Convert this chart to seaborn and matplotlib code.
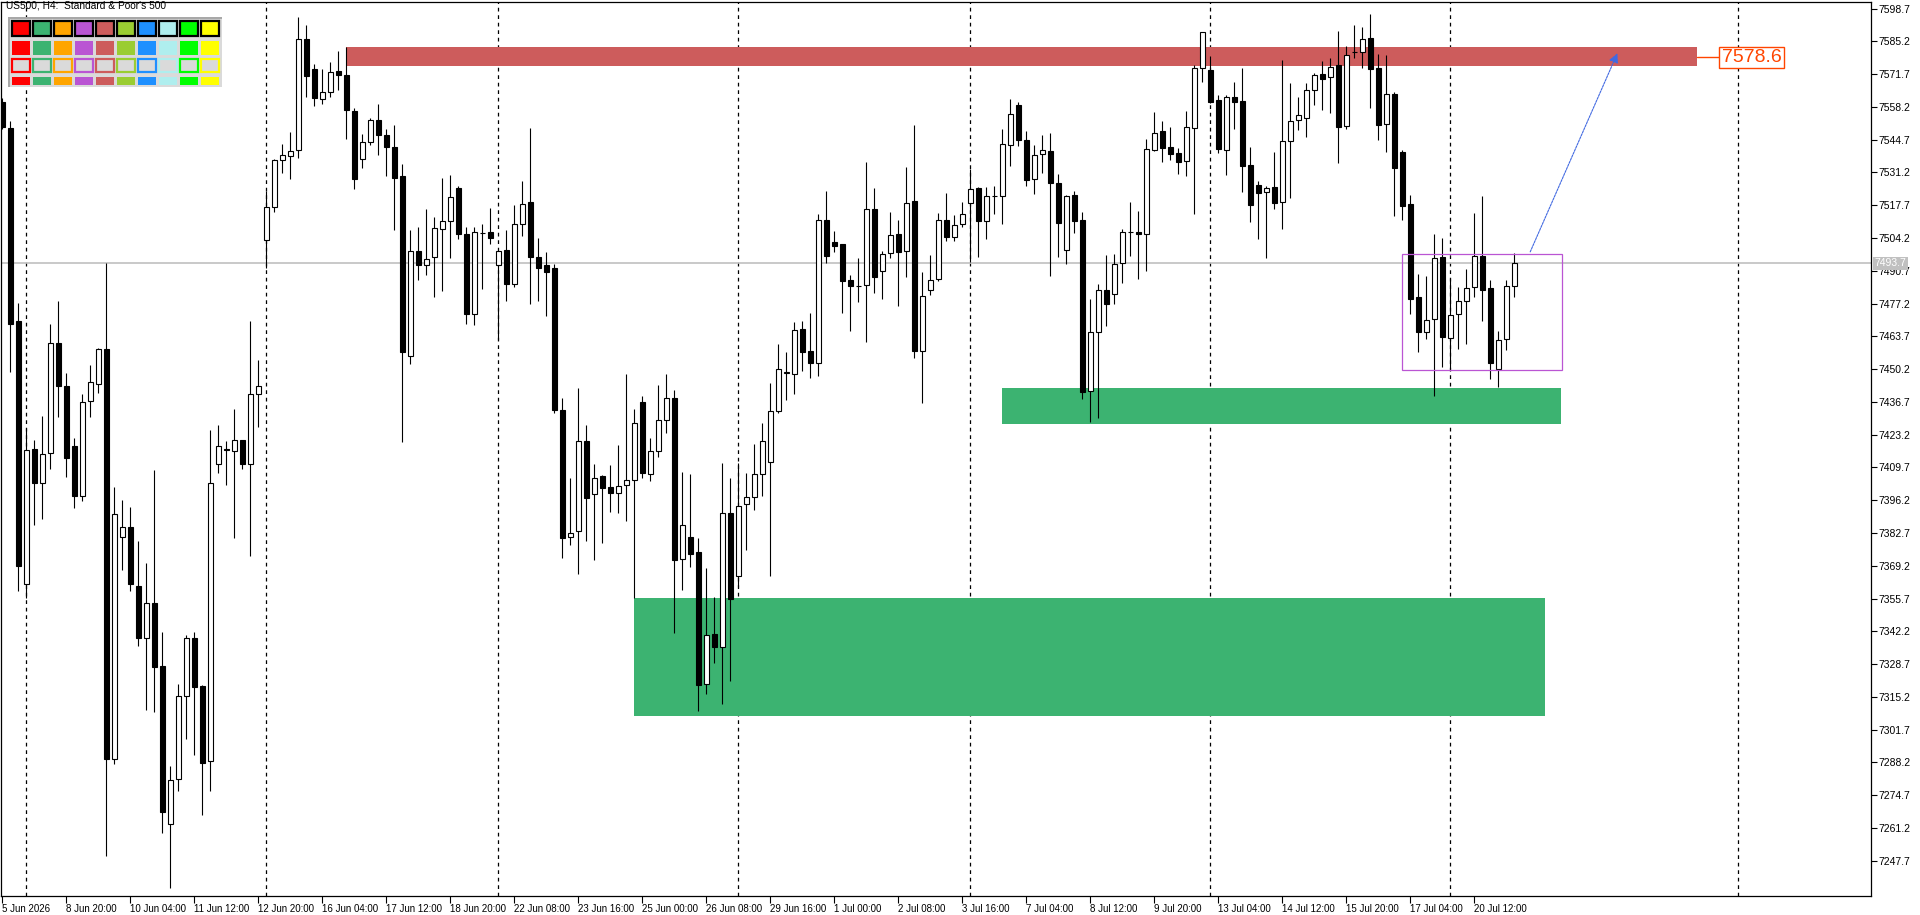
import numpy as np
import pandas as pd
import matplotlib
matplotlib.use("Agg")
import matplotlib.pyplot as plt
import matplotlib.patches as mpatches
from matplotlib import font_manager
import seaborn as sns

# US500 H4 candles (bar 0 = 5 Jun 2026)
opens = [
    7560.4, 7549.6, 7469.9, 7361.5, 7417.4, 7403.1, 7415.6, 7461.1, 7443.1, 7418.4,
    7398.1, 7437.0, 7444.2, 7458.6, 7289.5, 7381.2, 7385.0, 7361.0, 7339.6, 7353.7,
    7327.9, 7263.0, 7281.3, 7315.4, 7339.4, 7319.6, 7288.6, 7411.3, 7417.4, 7416.5,
    7421.0, 7411.3, 7440.0, 7503.5, 7516.9, 7536.2, 7537.8, 7540.6, 7586.2, 7573.6,
    7561.6, 7564.4, 7572.8, 7571.4, 7556.6, 7536.6, 7543.7, 7552.6, 7546.7, 7541.8,
    7529.6, 7455.5, 7498.8, 7492.9, 7496.4, 7508.0, 7511.3, 7524.9, 7506.0, 7472.9,
    7506.3, 7506.8, 7492.9, 7499.3, 7485.2, 7510.1, 7519.0, 7496.4, 7493.1, 7491.7,
    7433.4, 7381.2, 7383.6, 7420.7, 7398.9, 7406.2, 7401.7, 7399.3, 7402.6, 7404.7,
    7436.7, 7407.1, 7416.5, 7429.2, 7438.4, 7371.8, 7381.2, 7374.9, 7320.6, 7341.3,
    7335.9, 7391.1, 7364.8, 7394.6, 7397.5, 7407.1, 7412.0, 7433.0, 7448.7, 7448.1,
    7466.6, 7457.5, 7452.9, 7511.5, 7502.4, 7501.6, 7486.9, 7484.3, 7484.7, 7516.0,
    7490.5, 7497.9, 7505.8, 7498.7, 7519.3, 7457.5, 7482.7, 7487.2, 7511.5, 7504.5,
    7509.8, 7518.5, 7524.7, 7511.0, 7521.4, 7521.4, 7542.4, 7558.9, 7544.4, 7528.4,
    7538.7, 7539.9, 7526.7, 7499.1, 7521.8, 7511.5, 7441.2, 7465.4, 7482.7, 7481.0,
    7493.8, 7506.5, 7506.7, 7505.7, 7540.6, 7548.3, 7541.7, 7539.2, 7536.1, 7549.6,
    7574.1, 7573.4, 7561.0, 7540.6, 7562.1, 7560.6, 7534.3, 7525.9, 7523.0, 7525.1,
    7518.9, 7544.0, 7552.7, 7553.5, 7565.0, 7571.8, 7570.4, 7575.3, 7550.5, 7580.7,
    7580.9, 7586.4, 7574.1, 7551.0, 7563.4, 7539.5, 7518.2, 7479.9, 7465.3, 7470.7,
    7496.4, 7462.9, 7472.8, 7478.1, 7483.9, 7496.8, 7483.5, 7450.1, 7462.5, 7484.3,
]
highs = [
    7562.0, 7552.4, 7477.4, 7425.9, 7421.0, 7430.8, 7468.7, 7478.3, 7448.7, 7421.7,
    7440.0, 7452.0, 7459.0, 7493.8, 7401.7, 7396.3, 7393.4, 7379.3, 7370.4, 7408.7,
    7341.9, 7286.7, 7320.6, 7340.8, 7341.9, 7320.0, 7425.2, 7427.1, 7420.7, 7433.9,
    7421.2, 7469.9, 7454.1, 7523.5, 7536.6, 7543.0, 7547.9, 7595.2, 7591.9, 7575.7,
    7573.6, 7576.6, 7581.1, 7582.7, 7557.6, 7547.2, 7553.6, 7559.2, 7549.1, 7550.7,
    7534.8, 7507.7, 7508.9, 7516.2, 7512.9, 7529.1, 7530.1, 7525.6, 7508.9, 7508.7,
    7510.1, 7516.4, 7499.0, 7507.5, 7517.6, 7527.5, 7549.6, 7504.2, 7498.3, 7493.4,
    7438.4, 7405.2, 7442.6, 7427.3, 7411.1, 7406.5, 7410.9, 7418.9, 7448.2, 7433.9,
    7439.3, 7421.9, 7443.5, 7448.2, 7441.7, 7407.8, 7406.9, 7380.8, 7368.3, 7356.3,
    7411.6, 7405.5, 7411.6, 7407.6, 7419.3, 7427.9, 7444.4, 7460.6, 7457.1, 7469.6,
    7470.0, 7473.3, 7514.2, 7523.6, 7507.1, 7501.8, 7488.8, 7495.8, 7535.5, 7524.8,
    7498.9, 7514.8, 7511.6, 7533.5, 7550.8, 7490.2, 7497.2, 7514.5, 7522.8, 7513.8,
    7518.9, 7532.5, 7525.2, 7525.2, 7525.8, 7549.1, 7561.3, 7560.2, 7548.2, 7542.4,
    7546.6, 7547.5, 7530.6, 7522.1, 7523.4, 7514.8, 7479.1, 7485.3, 7497.1, 7497.6,
    7507.9, 7518.9, 7515.2, 7544.8, 7556.1, 7552.4, 7549.9, 7541.1, 7556.5, 7575.5,
    7589.0, 7579.0, 7563.1, 7562.9, 7568.5, 7574.2, 7541.7, 7527.7, 7525.5, 7539.6,
    7577.4, 7568.0, 7562.3, 7568.2, 7572.2, 7577.1, 7578.3, 7589.5, 7583.3, 7591.9,
    7591.1, 7596.5, 7580.0, 7579.6, 7564.3, 7540.5, 7521.9, 7489.4, 7488.7, 7505.9,
    7504.2, 7487.6, 7484.0, 7491.4, 7514.5, 7521.4, 7486.9, 7465.9, 7486.9, 7498.0,
]
lows = [
    7549.0, 7448.9, 7358.7, 7355.8, 7386.2, 7388.3, 7409.0, 7430.6, 7405.7, 7393.0,
    7396.0, 7430.6, 7440.2, 7249.6, 7287.6, 7367.4, 7358.9, 7336.3, 7310.0, 7308.8,
    7259.0, 7236.6, 7276.6, 7297.7, 7291.4, 7266.7, 7276.6, 7407.3, 7402.4, 7380.5,
    7409.0, 7373.4, 7426.4, 7491.7, 7514.8, 7530.8, 7528.7, 7537.3, 7562.3, 7558.7,
    7559.2, 7562.3, 7565.1, 7545.1, 7524.2, 7532.9, 7542.3, 7538.5, 7529.6, 7507.7,
    7420.0, 7452.2, 7487.0, 7489.1, 7479.7, 7482.3, 7496.0, 7503.9, 7468.9, 7468.2,
    7483.0, 7501.6, 7462.1, 7478.3, 7484.2, 7504.9, 7477.2, 7478.3, 7472.0, 7432.0,
    7372.5, 7377.7, 7365.7, 7379.6, 7371.4, 7378.7, 7391.4, 7391.1, 7387.8, 7355.8,
    7405.2, 7404.3, 7414.2, 7424.0, 7341.7, 7359.4, 7368.8, 7309.5, 7316.6, 7329.0,
    7312.4, 7321.8, 7360.6, 7375.9, 7392.1, 7398.0, 7365.0, 7432.0, 7437.5, 7439.8,
    7449.4, 7446.7, 7447.5, 7494.1, 7498.3, 7473.5, 7466.0, 7478.0, 7461.5, 7481.7,
    7479.2, 7496.1, 7476.3, 7488.3, 7454.6, 7436.1, 7480.7, 7486.4, 7502.8, 7502.8,
    7508.6, 7494.5, 7496.5, 7503.7, 7514.2, 7510.1, 7534.0, 7542.2, 7525.8, 7522.5,
    7531.1, 7488.7, 7496.4, 7493.4, 7506.4, 7437.8, 7428.6, 7430.0, 7468.1, 7477.2,
    7485.5, 7496.9, 7487.5, 7490.7, 7540.2, 7535.5, 7536.5, 7530.6, 7529.7, 7514.2,
    7568.6, 7559.7, 7539.3, 7530.2, 7549.1, 7523.3, 7510.8, 7503.9, 7496.1, 7516.1,
    7508.0, 7520.8, 7548.7, 7545.9, 7559.1, 7556.9, 7555.8, 7535.2, 7549.2, 7578.5,
    7574.2, 7557.9, 7544.7, 7539.6, 7513.4, 7511.6, 7473.0, 7457.4, 7462.7, 7439.1,
    7451.2, 7449.8, 7458.6, 7460.7, 7480.0, 7470.2, 7446.3, 7443.0, 7458.2, 7480.0,
]
closes = [
    7550.0, 7468.9, 7369.2, 7417.0, 7403.1, 7415.1, 7461.1, 7443.1, 7413.4, 7398.1,
    7436.5, 7444.7, 7458.6, 7289.5, 7390.6, 7385.0, 7361.5, 7339.6, 7353.7, 7327.4,
    7267.9, 7280.8, 7315.4, 7339.4, 7319.1, 7288.1, 7403.1, 7418.4, 7416.8, 7421.0,
    7411.3, 7440.0, 7443.3, 7516.9, 7536.2, 7538.3, 7539.9, 7586.0, 7570.9, 7561.8,
    7564.4, 7572.4, 7571.4, 7557.1, 7528.7, 7543.9, 7552.6, 7546.5, 7541.8, 7529.1,
    7457.4, 7498.8, 7492.9, 7495.7, 7508.2, 7511.3, 7520.9, 7505.8, 7472.9, 7506.8,
    7506.4, 7504.4, 7498.8, 7485.2, 7510.1, 7518.3, 7496.2, 7491.7, 7490.3, 7433.4,
    7380.8, 7382.9, 7420.7, 7397.0, 7405.2, 7401.2, 7399.1, 7402.2, 7404.5, 7428.0,
    7407.3, 7416.5, 7429.2, 7438.4, 7371.4, 7386.2, 7374.2, 7320.1, 7340.8, 7335.9,
    7391.1, 7355.4, 7393.7, 7397.5, 7407.1, 7420.5, 7433.0, 7450.1, 7448.9, 7466.2,
    7457.4, 7452.6, 7511.5, 7496.9, 7500.8, 7486.6, 7484.6, 7484.5, 7516.0, 7488.3,
    7497.5, 7505.3, 7498.6, 7518.5, 7457.8, 7480.2, 7486.8, 7511.5, 7504.5, 7509.4,
    7514.1, 7524.3, 7511.0, 7521.4, 7521.5, 7542.8, 7555.2, 7544.4, 7527.9, 7538.3,
    7540.3, 7526.7, 7510.5, 7521.4, 7511.4, 7440.6, 7465.4, 7482.7, 7476.9, 7493.4,
    7506.5, 7506.6, 7505.7, 7540.7, 7547.3, 7541.4, 7538.7, 7535.6, 7549.9, 7574.1,
    7588.9, 7560.4, 7541.0, 7562.1, 7560.4, 7534.0, 7517.9, 7522.6, 7524.7, 7518.8,
    7544.0, 7552.2, 7554.7, 7565.0, 7571.2, 7569.8, 7574.5, 7550.1, 7579.4, 7580.8,
    7586.0, 7573.9, 7550.9, 7563.4, 7533.2, 7517.5, 7479.2, 7465.6, 7470.3, 7495.8,
    7463.6, 7472.3, 7478.1, 7483.5, 7496.7, 7482.9, 7452.9, 7462.1, 7484.3, 7493.7,
]

# one label every 8 bars
time_labels = [
    "5 Jun 2026", "8 Jun 20:00", "10 Jun 04:00", "11 Jun 12:00", "12 Jun 20:00",
    "16 Jun 04:00", "17 Jun 12:00", "18 Jun 20:00", "22 Jun 08:00", "23 Jun 16:00",
    "25 Jun 00:00", "26 Jun 08:00", "29 Jun 16:00", "1 Jul 00:00", "2 Jul 08:00",
    "3 Jul 16:00", "7 Jul 04:00", "8 Jul 12:00", "9 Jul 20:00", "13 Jul 04:00",
    "14 Jul 12:00", "15 Jul 20:00", "17 Jul 04:00", "20 Jul 12:00",
]
price_ticks = [
    7247.7, 7261.2, 7274.7, 7288.2, 7301.7, 7315.2, 7328.7, 7342.2, 7355.7,
    7369.2, 7382.7, 7396.2, 7409.7, 7423.2, 7436.7, 7450.2, 7463.7, 7477.2,
    7490.7, 7504.2, 7517.7, 7531.2, 7544.7, 7558.2, 7571.7, 7585.2, 7598.7,
]
week_bars = [3, 33, 62, 92, 121, 151, 181, 217]

last_price = 7493.7
target_price = 7578.6
# zones: (first bar, last bar, low, high)
resistance = (43, 211.8, 7575.0, 7583.0)
support_hi = (125, 194.9, 7427.4, 7442.5)
support_lo = (79, 192.9, 7307.3, 7356.0)
range_box = (175, 195, 7449.9, 7497.5)
arrow_start = (191.0, 7498.5)
arrow_end = (201.9, 7580.3)
label_bar = 214.6

palette = ["#FF0000", "#3CB371", "#FFA500", "#BA55D3", "#CD5C5C",
           "#9ACD32", "#1E90FF", "#AFEEEE", "#00FF00", "#FFFF00"]

sns.set_theme(style="white")
names = {f.name for f in font_manager.fontManager.ttflist}
ui_font = "Liberation Sans Narrow" if "Liberation Sans Narrow" in names else "Liberation Sans"
plt.rcParams["font.family"] = [ui_font, "DejaVu Sans"]

df = pd.DataFrame({"open": opens, "high": highs, "low": lows, "close": closes})
df["bar"] = np.arange(len(df))
df["up"] = df["close"] >= df["open"]

W, H = 1920, 915
fig = plt.figure(figsize=(W / 100, H / 100), dpi=100)
fig.patch.set_facecolor("white")
ax = fig.add_axes([1 / W, 19 / H, 1870 / W, 894 / H])
ax.set_facecolor("white")

# zones
for x0, x1, y0, y1, col in [(*resistance, "#CD5C5C"), (*support_hi, "#3CB371"), (*support_lo, "#3CB371")]:
    ax.add_patch(mpatches.Rectangle((x0, y0), x1 - x0, y1 - y0, facecolor=col, edgecolor="none", zorder=1))

# week separators and last price line
for b in week_bars:
    ax.axvline(b, color="black", lw=0.9, ls=(0, (3, 3)), zorder=0.5)
ax.axhline(last_price, color="#C0C0C0", lw=1.2, zorder=0.8)

# candles
ax.vlines(df["bar"], df["low"], df["high"], color="black", lw=0.8, zorder=3)
body_lo = df[["open", "close"]].min(axis=1)
body_h = (df["close"] - df["open"]).abs()
ax.bar(df["bar"], body_h, bottom=body_lo, width=0.6,
       color=np.where(df["up"], "white", "black"), edgecolor="black", linewidth=0.8, zorder=4)

# range box
x0, x1, y0, y1 = range_box
ax.add_patch(mpatches.Rectangle((x0, y0), x1 - x0, y1 - y0, facecolor="none",
                                edgecolor="#BA55D3", lw=0.9, zorder=5))

# projection arrow
ax.annotate("", xy=arrow_end, xytext=arrow_start,
            arrowprops=dict(arrowstyle="-|>", color="#4169E1", lw=0.8, ls=(0, (2, 1)),
                            mutation_scale=14, shrinkA=0, shrinkB=0), zorder=6)

# target price label
ax.plot([resistance[1], label_bar], [target_price, target_price], color="#FF4500", lw=1.0, zorder=5)
ax.text(label_bar + 0.35, target_price, f"{target_price:.1f}", ha="left", va="center",
        fontsize=14, color="#FF4500", family=["Liberation Sans", "DejaVu Sans"], zorder=6,
        bbox=dict(boxstyle="square,pad=0.12", fc="white", ec="#FF4500", lw=1.0))

# axes
ax.set_xlim(-0.1625, 233.6)
ax.set_ylim(7233.2, 7601.4)
ax.grid(False)
for s in ax.spines.values():
    s.set_color("black")
    s.set_linewidth(0.9)

ax.yaxis.tick_right()
ax.set_yticks(price_ticks)
ax.set_yticklabels([f"{p:.1f}" for p in price_ticks])
ax.tick_params(axis="y", which="major", right=True, left=False, length=4, width=0.8,
               color="black", direction="out", pad=1, labelsize=7.5, labelcolor="black")

ax.set_xticks(df["bar"].iloc[::8][:len(time_labels)])
ax.set_xticklabels(time_labels)
ax.tick_params(axis="x", which="major", bottom=True, length=5, width=0.8, color="black",
               direction="out", pad=1, labelsize=7, labelcolor="black")
for t in ax.get_xticklabels():
    t.set_horizontalalignment("left")

# last price tag on the scale
ax.text(1.0018, last_price, f"{last_price:.1f}", transform=ax.get_yaxis_transform(),
        ha="left", va="center", fontsize=7.5, color="white", zorder=10, clip_on=False,
        bbox=dict(boxstyle="square,pad=0.15", fc="#C0C0C0", ec="none"))

# header text and colour panel (terminal decoration)
fig.text(6 / W, 1 - 1 / H, "US500, H4:  Standard & Poor's 500", ha="left", va="top",
         fontsize=7.3, color="black")


def px_rect(x, y, w, h, **kw):
    fig.add_artist(mpatches.Rectangle((x / W, 1 - (y + h) / H), w / W, h / H,
                                      transform=fig.transFigure, zorder=20, **kw))


px_rect(8, 17, 214, 70, facecolor="#DADADA", edgecolor="none")
px_rect(8, 17, 2, 70, facecolor="#A8A8A8", edgecolor="none")
px_rect(8, 17, 214, 2, facecolor="#A8A8A8", edgecolor="none")
for k, col in enumerate(palette):
    x = 12 + 21 * k
    px_rect(x, 21, 17.5, 14.5, facecolor=col, edgecolor="black", lw=1.6)
    px_rect(x - 0.5, 41, 18.5, 14, facecolor=col, edgecolor="none")
    px_rect(x, 59, 17.5, 12.5, facecolor="#DADADA", edgecolor=col, lw=1.6)
    px_rect(x - 0.5, 77, 18.5, 8, facecolor=col, edgecolor="none")

fig.savefig("out.png", dpi=100, facecolor="white")
